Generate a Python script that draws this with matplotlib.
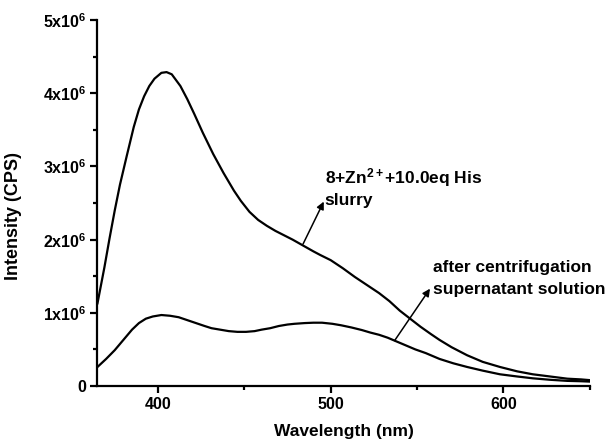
import matplotlib
matplotlib.use("Agg")
import matplotlib.pyplot as plt
from matplotlib.ticker import FixedLocator, FuncFormatter

plt.rcParams["font.family"] = ["Liberation Sans", "DejaVu Sans"]
plt.rcParams["font.weight"] = "bold"
plt.rcParams["mathtext.fontset"] = "custom"
plt.rcParams["mathtext.rm"] = "Liberation Sans:bold"
plt.rcParams["mathtext.it"] = "Liberation Sans:bold"
plt.rcParams["mathtext.bf"] = "Liberation Sans:bold"
plt.rcParams["mathtext.default"] = "rm"

# slurry curve (8+Zn2+ +10.0eq His), intensity in units of 1e6 CPS
wl_slurry = [365, 369, 372, 375, 378, 382, 386, 389, 392, 395, 398, 402, 405,
             408, 413, 417, 421, 426, 432, 438, 444, 448, 453, 458, 463, 468,
             473, 478, 484, 490, 494, 500, 507, 514, 521, 528, 534, 540, 546,
             552, 558, 563, 570, 579, 588, 598, 608, 617, 627, 637, 645, 650]
int_slurry = [1.13, 1.62, 2.02, 2.40, 2.75, 3.15, 3.54, 3.78, 3.96, 4.10,
              4.20, 4.28, 4.29, 4.26, 4.10, 3.92, 3.72, 3.46, 3.17, 2.91,
              2.67, 2.53, 2.38, 2.27, 2.19, 2.12, 2.06, 2.00, 1.92, 1.84,
              1.79, 1.72, 1.61, 1.49, 1.38, 1.27, 1.16, 1.03, 0.92, 0.81,
              0.71, 0.63, 0.53, 0.42, 0.33, 0.26, 0.20, 0.16, 0.13, 0.10,
              0.09, 0.08]

# supernatant after centrifugation
wl_super = [365, 370, 375, 380, 385, 389, 393, 397, 402, 407, 412, 417, 422,
            427, 431, 436, 441, 446, 451, 456, 460, 465, 470, 475, 479, 485,
            490, 495, 501, 506, 512, 518, 523, 528, 533, 537, 543, 549, 555,
            563, 571, 579, 588, 598, 608, 617, 627, 637, 645, 650]
int_super = [0.26, 0.37, 0.49, 0.63, 0.77, 0.86, 0.92, 0.95, 0.97, 0.96,
             0.94, 0.90, 0.86, 0.82, 0.79, 0.77, 0.75, 0.74, 0.74, 0.75,
             0.77, 0.79, 0.82, 0.84, 0.85, 0.86, 0.865, 0.865, 0.85, 0.83,
             0.80, 0.765, 0.73, 0.70, 0.66, 0.62, 0.56, 0.50, 0.45, 0.37,
             0.31, 0.26, 0.21, 0.16, 0.13, 0.105, 0.085, 0.07, 0.065, 0.06]

y_major = [0, 1, 2, 3, 4, 5]
x_major = [400, 500, 600]

fig = plt.figure(figsize=(6.15, 4.48), dpi=100)
ax = fig.add_axes([0.1585, 0.1384, 0.8005, 0.8166])

ax.plot(wl_slurry, [v * 1e6 for v in int_slurry], color="black", lw=1.6)
ax.plot(wl_super, [v * 1e6 for v in int_super], color="black", lw=1.6)

ax.set_xlim(365, 650)
ax.set_ylim(0, 5e6)
ax.spines["top"].set_visible(False)
ax.spines["right"].set_visible(False)
for s in ("left", "bottom"):
    ax.spines[s].set_linewidth(1.6)

ax.xaxis.set_major_locator(FixedLocator(x_major))
ax.xaxis.set_minor_locator(FixedLocator([450, 550, 650]))
ax.yaxis.set_major_locator(FixedLocator([v * 1e6 for v in y_major]))
ax.yaxis.set_minor_locator(FixedLocator([0.5e6, 1.5e6, 2.5e6, 3.5e6, 4.5e6]))


def yfmt(v, pos):
    n = int(round(v / 1e6))
    return "0" if n == 0 else r"%dx10$^{6}$" % n


ax.yaxis.set_major_formatter(FuncFormatter(yfmt))
ax.tick_params(which="major", direction="out", length=5, width=1.6,
               labelsize=11.5, pad=3)
ax.tick_params(which="minor", direction="out", length=3, width=1.6)

ax.set_xlabel("Wavelength (nm)", fontsize=12.5, fontweight="bold")
ax.set_ylabel("Intensity (CPS)", fontsize=13, fontweight="bold")
ax.xaxis.set_label_coords(0.5, -0.105)
ax.yaxis.set_label_coords(-0.153, 0.465)

ax.annotate("", xy=(496, 2.52e6), xytext=(484, 1.94e6),
            arrowprops=dict(arrowstyle="-|>", color="black", lw=1.1,
                            mutation_scale=11, shrinkA=0, shrinkB=0))
ax.annotate("", xy=(557.5, 1.33e6), xytext=(537, 0.62e6),
            arrowprops=dict(arrowstyle="-|>", color="black", lw=1.1,
                            mutation_scale=11, shrinkA=0, shrinkB=0))

ax.text(496.5, 2.77e6, "8+Zn$^{2+}$+10.0eq His", fontsize=12.5,
        fontweight="bold", va="baseline", ha="left")
ax.text(496.5, 2.47e6, "slurry", fontsize=12.5,
        fontweight="bold", va="baseline", ha="left")
ax.text(559.5, 1.56e6, "after centrifugation", fontsize=12.5,
        fontweight="bold", va="baseline", ha="left")
ax.text(559.5, 1.255e6, "supernatant solution", fontsize=12.5,
        fontweight="bold", va="baseline", ha="left")

fig.savefig("out.png", dpi=100)
